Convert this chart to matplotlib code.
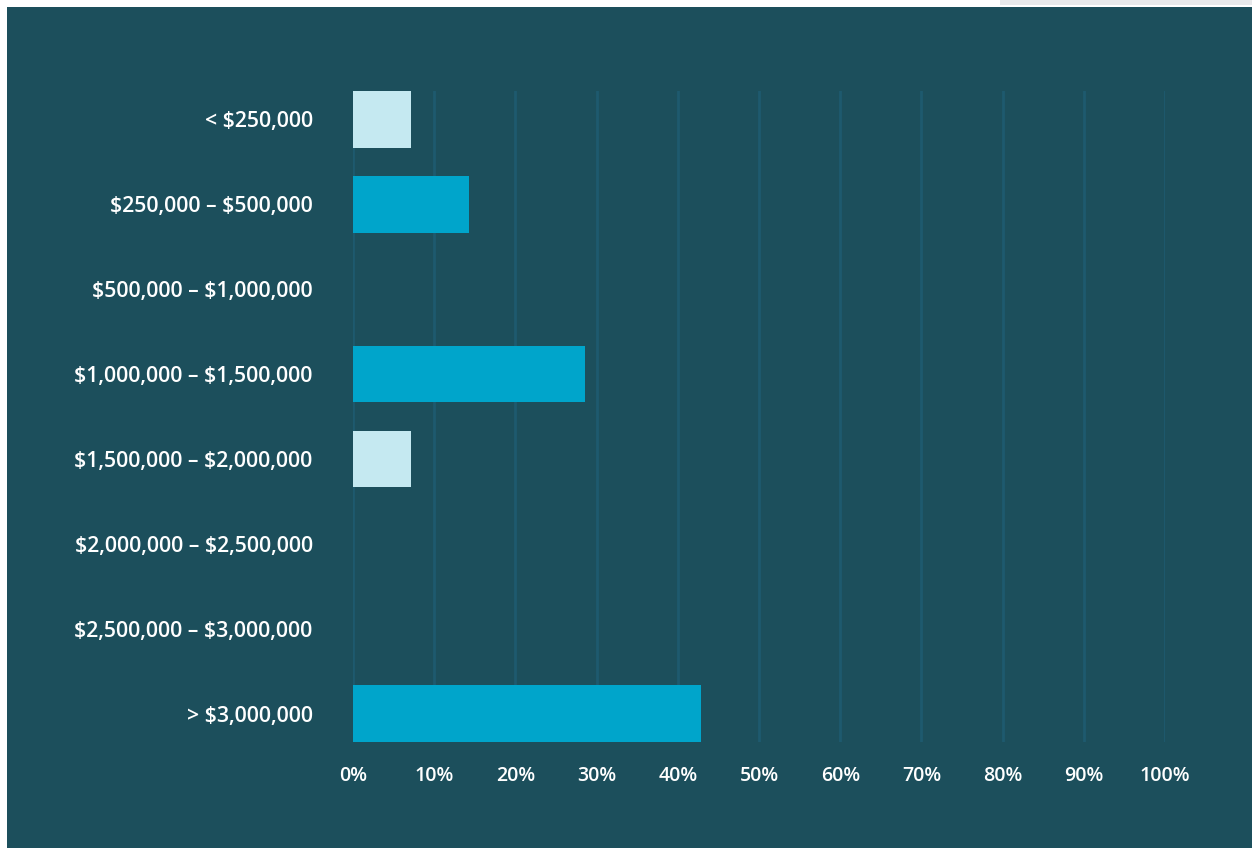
import matplotlib.pyplot as plt
from matplotlib.patches import Rectangle

plt.rcParams["text.parse_math"] = False

# share of listings per price band (%)
categories = [
    "< $250,000",
    "$250,000 – $500,000",
    "$500,000 – $1,000,000",
    "$1,000,000 – $1,500,000",
    "$1,500,000 – $2,000,000",
    "$2,000,000 – $2,500,000",
    "$2,500,000 – $3,000,000",
    "> $3,000,000",
]
shares = [7.14, 14.29, 0, 28.57, 7.14, 0, 0, 42.86]
bar_colors = ["#c5e9f1", "#00a5cb", "#00a5cb", "#00a5cb",
              "#c5e9f1", "#00a5cb", "#00a5cb", "#00a5cb"]
xticks = list(range(0, 101, 10))
xtick_labels = [f"{t}%" for t in xticks]

bg = "#1c4f5c"
grid = "#1e5a6e"
font = dict(family=["Open Sans", "DejaVu Sans"], weight="semibold", color="white")

fig = plt.figure(figsize=(12.52, 8.5), dpi=100, facecolor="white")
W, H = 1252, 850

# dark panel with thin page margins
fig.patches.append(Rectangle((7 / W, 2 / H), 1 - 7 / W, 1 - 9 / H,
                             transform=fig.transFigure, facecolor=bg,
                             edgecolor="none", zorder=-2))
fig.patches.append(Rectangle((1000 / W, 1 - 5 / H), 252 / W, 5 / H,
                             transform=fig.transFigure, facecolor="#e8e9eb",
                             edgecolor="none", zorder=-2))

ax = fig.add_axes([353 / W, 1 - 742 / H, (1165 - 353) / W, (742 - 91) / H])
ax.set_facecolor("none")

y = list(range(len(categories)))
ax.barh(y, shares, height=0.67, color=bar_colors, zorder=3)

ax.set_xlim(0, 100)
ax.set_ylim(len(categories) - 1 + 0.335, -0.335)
ax.set_xticks(xticks)
ax.set_xticklabels(xtick_labels, size=14, **font)
ax.set_yticks(y)
ax.set_yticklabels(categories, size=15.3, **font)
ax.tick_params(axis="both", length=0)
ax.tick_params(axis="y", pad=29)
ax.tick_params(axis="x", pad=17)
for t in xticks:
    ax.axvline(t, color=grid, linewidth=2, zorder=1)
for s in ax.spines.values():
    s.set_visible(False)

fig.savefig("out.png", dpi=100, facecolor="white")
